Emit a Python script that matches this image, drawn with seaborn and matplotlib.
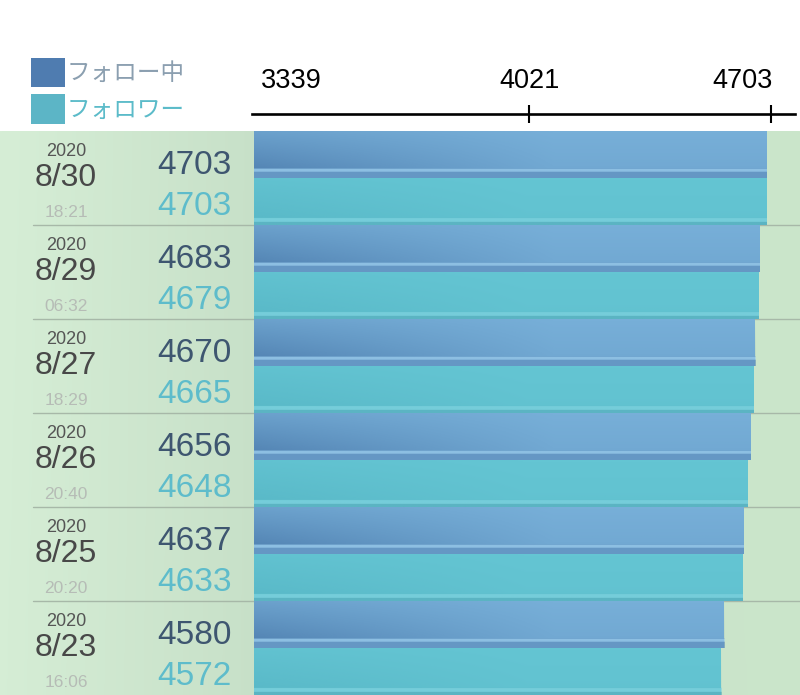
import numpy as np
import pandas as pd
import matplotlib
matplotlib.use("Agg")
import matplotlib.pyplot as plt
import matplotlib.transforms as mtransforms
from matplotlib.lines import Line2D
from matplotlib.colors import to_rgb
import seaborn as sns

# データ
years = ["2020", "2020", "2020", "2020", "2020", "2020"]
dates = ["8/30", "8/29", "8/27", "8/26", "8/25", "8/23"]
times = ["18:21", "06:32", "18:29", "20:40", "20:20", "16:06"]
following = [4703, 4683, 4670, 4656, 4637, 4580]
followers = [4703, 4679, 4665, 4648, 4633, 4572]
series_names = ["フォロー中", "フォロワー"]
tick_values = [3339, 4021, 4703]

df = pd.DataFrame({
    "date": dates * 2,
    "count": following + followers,
    "kind": [series_names[0]] * len(dates) + [series_names[1]] * len(dates),
})

sns.set_theme(style="white")
plt.rcParams["font.family"] = ["Liberation Sans", "Noto Sans CJK JP", "DejaVu Sans"]

W, H = 800, 695
fig = plt.figure(figsize=(W / 100, H / 100), dpi=100)
fig.patch.set_facecolor("white")

top_px = 131
ax_bottom = 0.0
ax_top = 1 - top_px / H

# 背景（緑のグラデーション）
bg = fig.add_axes([0, ax_bottom, 1, ax_top], zorder=-5)
gx = np.linspace(0, 1, 200)
gy = np.linspace(0, 1, 200)
GX, GY = np.meshgrid(gx, gy)
c_light = np.array(to_rgb("#d6eed6"))
c_mid = np.array(to_rgb("#c6dfc7"))
c_right = np.array(to_rgb("#cbe6cb"))
t = np.clip(GX / 0.35, 0, 1)[..., None]
img = c_light * (1 - t) + c_mid * t
t2 = np.clip((GX - 0.35) / 0.65, 0, 1)[..., None]
img = img * (1 - t2) + c_right * t2
img = img * (1 - 0.05 * GY[..., None]) + 0.05 * GY[..., None] * c_mid
bg.imshow(img, extent=(0, 1, 0, 1), aspect="auto", origin="upper")
bg.set_axis_off()

# メインの棒グラフ
ax = fig.add_axes([254 / W, ax_bottom, 1 - 254 / W, ax_top], zorder=0)
ax.set_facecolor("none")
sns.barplot(data=df, y="date", x="count", hue="kind", orient="h", width=1.0,
            dodge=True, palette=["#77afd8", "#64c5d3"], saturation=1,
            linewidth=0, ax=ax)

x_lo, x_hi = 3231, 4798
ax.set_xlim(x_lo, x_hi)
ax.set_ylim(len(dates) - 0.5, -0.5)

# 立体感のある陰影
def shade(patch, kind):
    x0, y0 = patch.get_x(), patch.get_y()
    w, h = patch.get_width(), patch.get_height()
    xe = x0 + w
    nx, ny = 300, 60
    xs = np.linspace(x_lo, xe, nx)
    ys = np.linspace(0, 1, ny)
    XF, YF = np.meshgrid((xs - x_lo) / (x_hi - x_lo), ys)
    rgba = np.zeros((ny, nx, 4))
    if kind == 0:
        dark = np.array(to_rgb("#3f6c9f"))
        a = 0.6 * np.clip(1 - XF / 0.55, 0, 1) * (0.35 + 0.65 * YF)
        a += 0.12 * YF
        rgba[..., :3] = dark
        rgba[..., 3] = np.clip(a, 0, 1)
        band = (YF > 0.80) & (YF < 0.88)
        rgba[band, :3] = np.array(to_rgb("#9ccbea"))
        rgba[band, 3] = 0.6
        edge = YF >= 0.88
        rgba[edge, :3] = np.array(to_rgb("#5a88b8"))
        rgba[edge, 3] = 0.6
    else:
        dark = np.array(to_rgb("#4aa8b8"))
        a = 0.35 * np.clip(1 - XF / 0.5, 0, 1) * (0.3 + 0.7 * YF) + 0.1 * YF
        rgba[..., :3] = dark
        rgba[..., 3] = np.clip(a, 0, 1)
        band = (YF > 0.86) & (YF < 0.94)
        rgba[band, :3] = np.array(to_rgb("#82d3df"))
        rgba[band, 3] = 0.6
        edge = YF >= 0.94
        rgba[edge, :3] = np.array(to_rgb("#55a9b9"))
        rgba[edge, 3] = 0.6
    im = ax.imshow(rgba, extent=(x_lo, xe, y0 + h, y0), origin="upper",
                   aspect="auto", interpolation="bilinear", zorder=2)
    im.set_clip_path(patch)

n = len(dates)
bars = [p for p in ax.patches][: 2 * n]
for k, p in enumerate(bars):
    shade(p, 0 if k < n else 1)

ax.set_xlim(x_lo, x_hi)
ax.set_ylim(len(dates) - 0.5, -0.5)

# 上の目盛り軸
for s in ["left", "right", "bottom"]:
    ax.spines[s].set_visible(False)
ax.spines["top"].set_position(("outward", 12.5))
ax.spines["top"].set_linewidth(1.9)
ax.spines["top"].set_color("black")
ax.spines["top"].set_bounds(x_lo - 5, 4783)
ax.xaxis.set_ticks_position("top")
ax.set_xticks(tick_values)
ax.set_xticklabels([str(v) for v in tick_values])
ax.tick_params(axis="x", which="major", top=True, bottom=False, labeltop=True,
               labelbottom=False, direction="inout", length=13, width=1.5,
               color="black", labelsize=19.5, labelcolor="black", pad=8)
ticks = ax.xaxis.get_major_ticks()
ticks[0].tick2line.set_markersize(0)
# 右端の目盛りは少し右、ラベルは枠内に収める
ticks[-1].tick2line.set_transform(ticks[-1].tick2line.get_transform()
                                  + mtransforms.ScaledTranslation(4 / 100, 0, fig.dpi_scale_trans))
ticks[-1].label2.set_transform(ticks[-1].label2.get_transform()
                               + mtransforms.ScaledTranslation(-24 / 100, 0, fig.dpi_scale_trans))
ax.set_yticks([])
ax.set_xlabel("")
ax.set_ylabel("")

# 凡例
handles, labels = ax.get_legend_handles_labels()
leg = ax.legend(handles, labels, loc="upper left",
                bbox_to_anchor=(19 / W, 1 - 46 / H), bbox_transform=fig.transFigure,
                frameon=False, handlelength=1.45, handleheight=1.55,
                handletextpad=0.08, labelspacing=0.28, borderpad=0,
                prop={"family": ["Noto Sans CJK JP"], "size": 17})
leg.legend_handles[0].set_facecolor("#4f7cb0")
leg.legend_handles[1].set_facecolor("#5cb5c6")
leg.get_texts()[0].set_color("#8b9fb0")
leg.get_texts()[1].set_color("#5bbbc9")

# 行の区切り線と左側の文字
tr = mtransforms.blended_transform_factory(fig.transFigure, ax.transData)
for i in range(n - 1):
    fig.add_artist(Line2D([33 / W, 1], [i + 0.5, i + 0.5], transform=tr,
                          color="#a7b8a8", linewidth=1.0, zorder=-1))

xc = 66 / W
xr = 232 / W
for i in range(n):
    fig.text(xc, i - 0.282, years[i], transform=tr, ha="center", va="center",
             fontsize=13, color="#555555")
    fig.text(xc, i + 0.005, dates[i], transform=tr, ha="center", va="center",
             fontsize=23, color="#484848")
    fig.text(xc, i + 0.367, times[i], transform=tr, ha="center", va="center",
             fontsize=12.5, color="#b6bcb6")
    fig.text(xr, i - 0.138, str(following[i]), transform=tr, ha="right",
             va="center", fontsize=24, color="#3e5670")
    fig.text(xr, i + 0.303, str(followers[i]), transform=tr, ha="right",
             va="center", fontsize=24, color="#5ebccb")

fig.savefig("out.png", dpi=100)
